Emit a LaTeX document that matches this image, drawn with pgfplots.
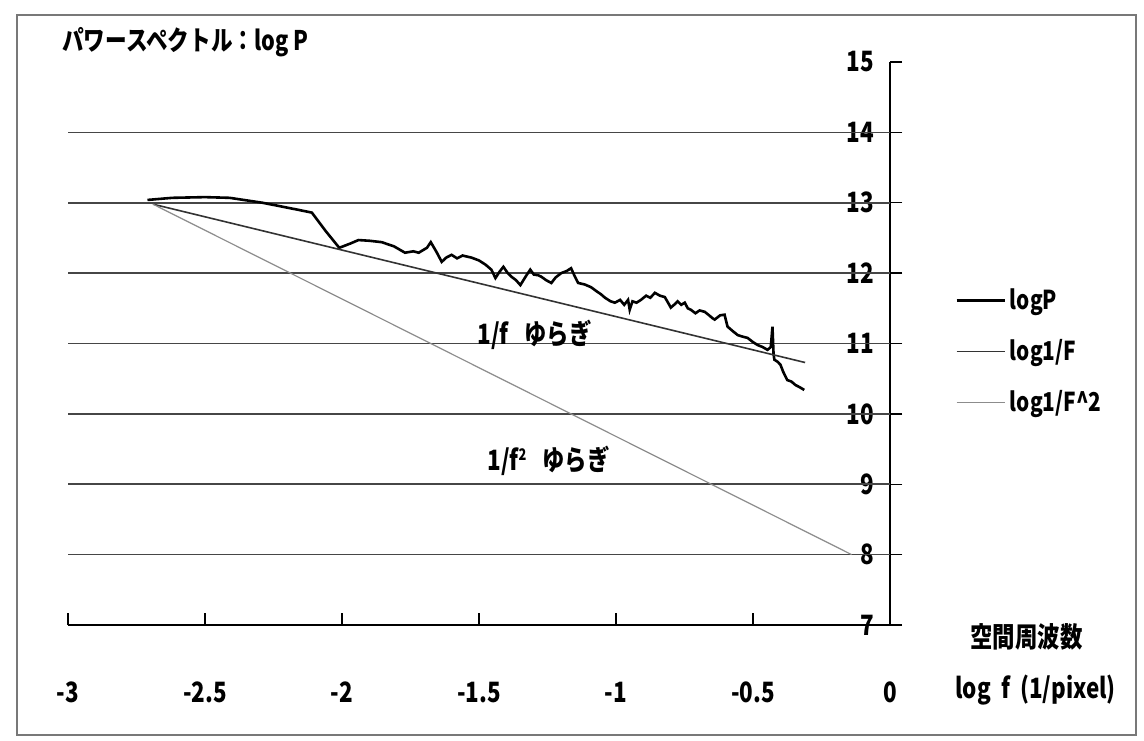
\documentclass[border=0pt]{standalone}
\usepackage{fontspec}
\setmainfont{Noto Sans CJK JP}[FakeStretch=0.8]
\usepackage{pgfplots}
\pgfplotsset{compat=1.18}
\definecolor{gridc}{RGB}{70,70,70}
\definecolor{framec}{RGB}{120,120,120}
\begin{document}
\begin{tikzpicture}
\useasboundingbox (-34pt,-57.5pt) rectangle (538pt,312.5pt);
\draw[framec, line width=1.2pt] (-25.5pt,-55pt) rectangle (534pt,305pt);
\begin{axis}[
  at={(0pt,0pt)}, anchor=south west,
  scale only axis, width=411pt, height=281.5pt,
  xmin=-3, xmax=0, ymin=7, ymax=15,
  axis x line=bottom, axis y line=right,
  axis line style={-, black, line width=0.7pt},
  xtick={-3,-2.5,-2,-1.5,-1,-0.5,0},
  xticklabels={-3,-2.5,-2,-1.5,-1,-0.5,0},
  ytick={7,8,9,10,11,12,13,14,15},
  yticklabels={7,8,9,10,11,12,13,14,15},
  extra y ticks={8,9,10,11,12,13,14},
  extra y tick labels={},
  extra y tick style={grid=major},
  major grid style={gridc, line width=0.8pt},
  tick align=outside, major tick length=6pt,
  tick style={black, line width=0.7pt},
  x tick style={yshift=6pt},
  xticklabel style={font=\fontsize{14}{16}\selectfont\bfseries, yshift=-19pt},
  yticklabel style={font=\fontsize{14}{16}\selectfont\bfseries, anchor=east, xshift=-10.5pt},
  legend style={at={(axis description cs:1.079,0.605)}, anchor=north west, draw=none, fill=none,
    font=\fontsize{13}{15}\selectfont\bfseries, row sep=9.5pt, inner sep=0pt},
  legend cell align=left,
  legend image code/.code={\draw[#1] (0pt,0pt) -- (24pt,0pt);},
  clip=false,
]
\addplot[black, line width=1.3pt] coordinates {
(-2.71,13.04) (-2.62,13.07) (-2.50,13.08) (-2.41,13.07) (-2.29,13.00) (-2.16,12.90) (-2.11,12.86)
(-2.06,12.60) (-2.01,12.36) (-1.97,12.42) (-1.94,12.47) (-1.90,12.46) (-1.855,12.44) (-1.81,12.38)
(-1.77,12.29) (-1.74,12.31) (-1.72,12.29) (-1.69,12.36) (-1.676,12.44) (-1.655,12.30) (-1.636,12.16)
(-1.62,12.22) (-1.60,12.26) (-1.58,12.21) (-1.56,12.25) (-1.527,12.22) (-1.50,12.18) (-1.476,12.12)
(-1.455,12.05) (-1.44,11.93) (-1.425,12.02) (-1.411,12.09) (-1.395,12.00) (-1.382,11.95) (-1.365,11.90)
(-1.349,11.83) (-1.33,11.95) (-1.313,12.05) (-1.30,11.98) (-1.284,11.97) (-1.273,11.95) (-1.255,11.90)
(-1.236,11.86) (-1.22,11.94) (-1.20,12.00) (-1.18,12.03) (-1.164,12.07) (-1.15,11.95) (-1.138,11.86)
(-1.115,11.84) (-1.091,11.80) (-1.07,11.74) (-1.055,11.70) (-1.040,11.65) (-1.02,11.60) (-1.004,11.58)
(-0.985,11.62) (-0.97,11.55) (-0.956,11.62) (-0.95,11.48) (-0.94,11.60) (-0.925,11.58) (-0.909,11.62)
(-0.89,11.68) (-0.875,11.65) (-0.858,11.72) (-0.84,11.68) (-0.822,11.66) (-0.81,11.58) (-0.80,11.51)
(-0.785,11.56) (-0.775,11.60) (-0.762,11.55) (-0.749,11.58) (-0.738,11.50) (-0.727,11.48) (-0.71,11.43)
(-0.695,11.47) (-0.676,11.45) (-0.66,11.40) (-0.648,11.36) (-0.640,11.34) (-0.62,11.40) (-0.604,11.41)
(-0.593,11.24) (-0.575,11.18) (-0.556,11.12) (-0.54,11.10) (-0.520,11.08) (-0.50,11.02) (-0.484,10.98)
(-0.465,10.95) (-0.447,10.91) (-0.435,10.95) (-0.429,11.24) (-0.425,10.85) (-0.422,10.77) (-0.41,10.74)
(-0.400,10.70) (-0.39,10.60) (-0.375,10.48) (-0.36,10.46) (-0.345,10.41) (-0.33,10.38) (-0.313,10.34)
};
\addlegendentry{logP}
\addplot[black!80, line width=0.8pt] coordinates {(-2.69,12.98) (-0.31,10.73)};
\addlegendentry{log1/F}
\addplot[black!45, line width=0.6pt] coordinates {(-2.69,12.98) (-0.14,8.0)};
\addlegendentry{log1/F\textasciicircum 2}
\end{axis}
\begin{scope}[every node/.style={inner sep=0pt, anchor=west, font=\fontsize{14}{16}\selectfont\bfseries}]
\node at (-3pt,291.5pt) {\fontsize{13.5}{16}\selectfont パワースペクトル：log P};
\node at (451pt,-6pt) {空間周波数};
\node at (443.5pt,-32.5pt) {log\ \ f\ \ (1/pixel)};
\node at (204.5pt,145pt) {1/f\hspace{8pt}ゆらぎ};
\node at (209.5pt,82pt) {1/f\raisebox{5pt}{\fontsize{8}{9}\selectfont 2}\hspace{8pt}ゆらぎ};
\end{scope}
\end{tikzpicture}
\end{document}
